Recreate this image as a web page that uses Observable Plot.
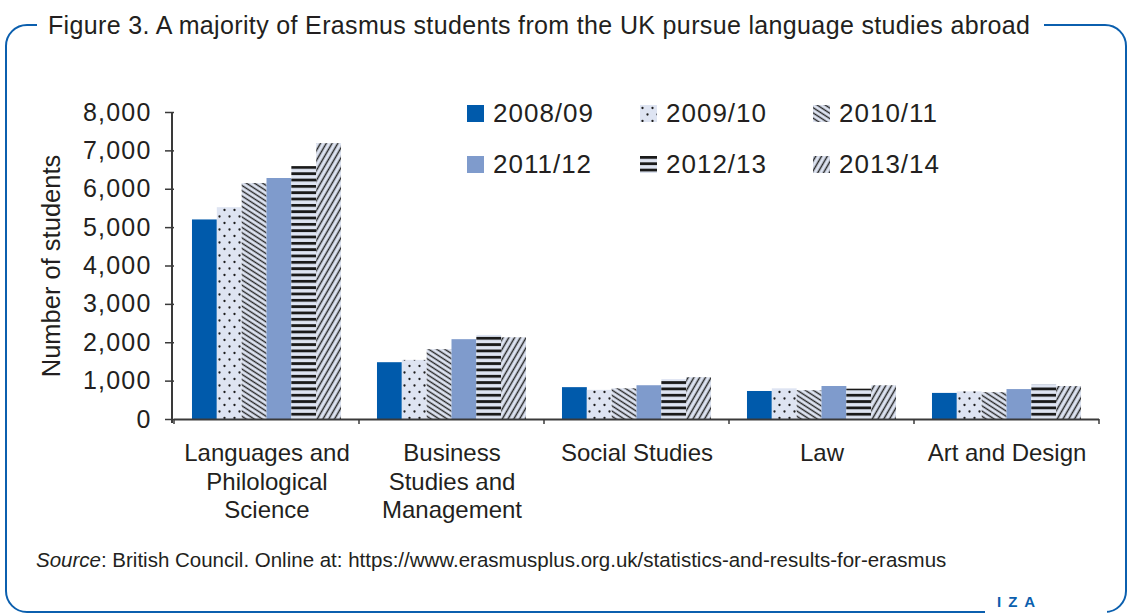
<!DOCTYPE html>
<html><head><meta charset="utf-8">
<script src="https://cdn.jsdelivr.net/npm/d3@7"></script>
<script src="https://cdn.jsdelivr.net/npm/@observablehq/plot@0.6"></script>
<style>
body{margin:0;background:#fff;font-family:"Liberation Sans",Arial,sans-serif;color:#231f20}
#wrap{position:relative;width:1129px;height:615px;overflow:hidden;background:#fff}
#frame{position:absolute;left:5px;top:24px;width:1122px;height:589px;box-sizing:border-box;border:2.5px solid #0b5fae;border-radius:22px}
#title{position:absolute;left:37px;top:8px;padding:0 14px 0 11px;background:#fff;font-size:25px;letter-spacing:0.35px;line-height:34px;white-space:nowrap;color:#231f20}
#chart{position:absolute;left:0;top:90px}
#chart g[aria-label="y-axis tick label"] text{letter-spacing:1.2px;font-size:25px}
#chart g[aria-label="y-axis label"] text{font-size:25.5px}
#legend{position:absolute;left:467px;top:98px;display:grid;grid-template-columns:173px 173px 173px;grid-auto-rows:51px}
.item{display:flex;align-items:center;height:30px;font-size:26px;letter-spacing:1px;color:#231f20;white-space:nowrap}
.item svg{margin-right:9px;flex:none}
#source{position:absolute;left:36px;top:548px;font-size:20.5px;color:#231f20;white-space:nowrap}
#iza{position:absolute;left:985px;top:592px;width:122px;height:24px;background:#fff;text-align:left}
#iza span{position:absolute;left:12px;top:1px;font-weight:bold;font-size:15px;color:#0b5fae;letter-spacing:7px}
</style></head>
<body>
<div id="wrap">
  <div id="frame"></div>
  <div id="title">Figure 3. A majority of Erasmus students from the UK pursue language studies abroad</div>
  <svg width="0" height="0" style="position:absolute">
    <defs>
      <pattern id="p-dots" patternUnits="userSpaceOnUse" width="10" height="13">
        <rect width="10" height="13" fill="#dee4f2"/>
        <circle cx="2.5" cy="3" r="1.15" fill="#1e1e1e"/>
        <circle cx="7.5" cy="9.5" r="1.15" fill="#1e1e1e"/>
      </pattern>
      <pattern id="p-back" patternUnits="userSpaceOnUse" width="10" height="4.4" patternTransform="rotate(33)">
        <rect width="10" height="4.4" fill="#dee4f2"/>
        <line x1="0" y1="2.2" x2="10" y2="2.2" stroke="#262626" stroke-width="1.4"/>
      </pattern>
      <pattern id="p-horiz" patternUnits="userSpaceOnUse" width="10" height="6.33">
        <rect width="10" height="6.33" fill="#dee4f2"/>
        <rect y="0" width="10" height="2.8" fill="#1a1a1a"/>
      </pattern>
      <pattern id="p-fwd" patternUnits="userSpaceOnUse" width="10" height="5" patternTransform="rotate(-60)">
        <rect width="10" height="5" fill="#dee4f2"/>
        <line x1="0" y1="2.5" x2="10" y2="2.5" stroke="#262626" stroke-width="1.5"/>
      </pattern>
    </defs>
  </svg>
  <div id="chart"></div>
  <div id="legend"></div>
  <div id="source"><i>Source</i>: British Council. Online at: https://www.erasmusplus.org.uk/statistics-and-results-for-erasmus</div>
  <div id="iza"><span>IZA</span></div>
</div>
<script>
const categories = ["Languages and\nPhilological\nScience", "Business\nStudies and\nManagement", "Social Studies", "Law", "Art and Design"];
const years = ["2008/09", "2009/10", "2010/11", "2011/12", "2012/13", "2013/14"];
const s2008 = [5200, 1480, 830, 730, 680];
const s2009 = [5520, 1540, 760, 800, 720];
const s2010 = [6150, 1820, 800, 750, 700];
const s2011 = [6280, 2080, 880, 860, 780];
const s2012 = [6590, 2190, 1040, 790, 910];
const s2013 = [7190, 2130, 1090, 880, 860];
const yTicks = [0, 1000, 2000, 3000, 4000, 5000, 6000, 7000, 8000];
const fills = ["#005aab", "url(#p-dots)", "url(#p-back)", "#7f9bcc", "url(#p-horiz)", "url(#p-fwd)"];

const series = [s2008, s2009, s2010, s2011, s2012, s2013];
const rows = [];
years.forEach((yr, i) => categories.forEach((c, j) => rows.push({category: c, year: yr, value: series[i][j]})));

const plot = Plot.plot({
  width: 1129, height: 439,
  marginTop: 22, marginBottom: 110, marginLeft: 172, marginRight: 29,
  style: {fontFamily: "Liberation Sans, Arial, sans-serif", fontSize: "24px", color: "#231f20", background: "transparent", overflow: "visible"},
  fx: {domain: categories, padding: 0, label: null},
  x: {domain: years, paddingOuter: 0.724, paddingInner: 0, round: false, axis: null},
  y: {domain: [0, 8000]},
  color: {domain: years, range: fills},
  marks: [
    Plot.barY(rows, {fx: "category", x: "year", y: "value", fill: "year"}),
    Plot.ruleY([0], {stroke: "#3a3a3a", strokeWidth: 2}),
    Plot.axisY({ticks: yTicks, tickFormat: d3.format(","), tickSize: 9, tickPadding: 14, fontSize: 24, label: "Number of students", labelAnchor: "center", labelArrow: "none", labelOffset: 133, stroke: "#3a3a3a", strokeWidth: 1.5}),
    Plot.axisFx({anchor: "bottom", tickSize: 0, tickPadding: 22, fontSize: 24, lineHeight: 1.17, label: null})
  ]
});
document.getElementById("chart").appendChild(plot);

// axis line and category boundary ticks from the library's scales
const ys = plot.scale("y"), fxs = plot.scale("fx");
const svg = d3.select(plot);
const x0 = fxs.range[0];
svg.append("line").attr("x1", x0).attr("x2", x0)
  .attr("y1", ys.apply(8000)).attr("y2", ys.apply(0) + 4)
  .attr("stroke", "#3a3a3a").attr("stroke-width", 2);
const bounds = categories.map(c => fxs.apply(c)).concat([fxs.apply(categories[categories.length - 1]) + fxs.bandwidth]);
bounds.forEach(b => svg.append("line").attr("x1", b).attr("x2", b)
  .attr("y1", ys.apply(0)).attr("y2", ys.apply(0) + 5)
  .attr("stroke", "#3a3a3a").attr("stroke-width", 1.5));

// legend
const leg = d3.select("#legend");
years.forEach((yr, i) => {
  const it = leg.append("div").attr("class", "item");
  const sw = it.append("svg").attr("width", 17).attr("height", 17);
  sw.append("rect").attr("width", 17).attr("height", 17).attr("fill", fills[i]);
  it.append("span").text(yr);
});
</script>
</body></html>
